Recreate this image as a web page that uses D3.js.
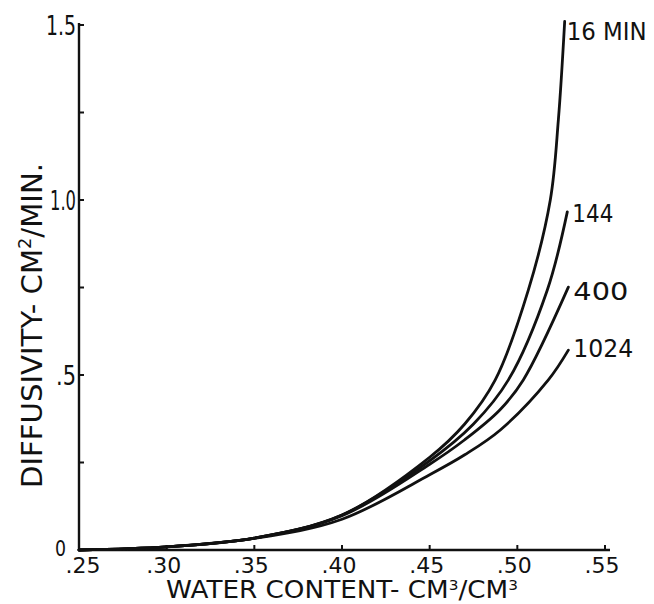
<!DOCTYPE html>
<html>
<head>
<meta charset="utf-8">
<script src="https://cdn.jsdelivr.net/npm/d3@7"></script>
<style>
  html, body { margin: 0; padding: 0; background: #fff; }
  svg { display: block; }
  text { font-family: "DejaVu Sans", sans-serif; fill: #111; }
</style>
</head>
<body>
<svg id="chart" width="654" height="604"></svg>
<script>
// ---- data ----
const xTicks = [0.25, 0.30, 0.35, 0.40, 0.45, 0.50, 0.55];
const xTickLabels = [".25", ".30", ".35", ".40", ".45", ".50", ".55"];
const yTicks = [0, 0.5, 1.0, 1.5];
const yTickLabels = ["0", ".5", "1.0", "1.5"];
const yMinorTicks = [0.25, 0.5, 0.75, 1.0, 1.25, 1.5];

const seriesNames = ["16 MIN", "144", "400", "1024"];
const wc16   = [0.25, 0.30, 0.35, 0.40, 0.45, 0.47, 0.4874, 0.5063, 0.5188, 0.5234, 0.527];
const d16    = [0, 0.009, 0.034, 0.10, 0.265, 0.36, 0.486, 0.743, 1.0, 1.229, 1.51];
const wc144  = [0.25, 0.30, 0.35, 0.40, 0.45, 0.475, 0.4949, 0.5171, 0.5285];
const d144   = [0, 0.009, 0.034, 0.10, 0.255, 0.36, 0.486, 0.743, 0.966];
const wc400  = [0.25, 0.30, 0.35, 0.40, 0.45, 0.47, 0.49, 0.5034, 0.5291];
const d400   = [0, 0.009, 0.034, 0.098, 0.245, 0.315, 0.40, 0.486, 0.751];
const wc1024 = [0.25, 0.30, 0.35, 0.40, 0.45, 0.47, 0.4903, 0.5177, 0.5291];
const d1024  = [0, 0.009, 0.033, 0.088, 0.215, 0.272, 0.343, 0.486, 0.571];

const series = [
  {name: seriesNames[0], wc: wc16, d: d16},
  {name: seriesNames[1], wc: wc144, d: d144},
  {name: seriesNames[2], wc: wc400, d: d400},
  {name: seriesNames[3], wc: wc1024, d: d1024}
];

// ---- drawing ----
const svg = d3.select("#chart");
svg.append("rect").attr("width", 654).attr("height", 604).attr("fill", "#fff");

const x = d3.scaleLinear().domain([0.25, 0.55]).range([79, 605]);
const y = d3.scaleLinear().domain([0, 1.5]).range([550, 25]);

// axes lines
svg.append("line").attr("x1", x(0.25)).attr("x2", 610).attr("y1", y(0)).attr("y2", y(0))
  .attr("stroke", "#111").attr("stroke-width", 2.4);
svg.append("line").attr("x1", x(0.25)).attr("x2", x(0.25)).attr("y1", y(0)).attr("y2", y(1.5) - 2)
  .attr("stroke", "#111").attr("stroke-width", 2.4);

// x ticks (small, upward)
svg.selectAll(".xt").data(xTicks.slice(1)).enter().append("line")
  .attr("x1", d => x(d)).attr("x2", d => x(d))
  .attr("y1", y(0)).attr("y2", y(0) - 5)
  .attr("stroke", "#111").attr("stroke-width", 2);
// y ticks (small, rightward)
svg.selectAll(".yt").data(yMinorTicks).enter().append("line")
  .attr("x1", x(0.25)).attr("x2", x(0.25) + 5)
  .attr("y1", d => y(d)).attr("y2", d => y(d))
  .attr("stroke", "#111").attr("stroke-width", 2);

// x tick labels
svg.selectAll(".xl").data(xTicks).enter().append("text")
  .attr("x", d => d === 0.25 ? x(d) + 4 : x(d) - 3)
  .attr("y", y(0) + 23)
  .attr("text-anchor", "middle")
  .attr("font-size", 22)
  .text((d, i) => xTickLabels[i]);

// y tick labels
const yLabelWidths = [11, 20, 26, 30];
svg.selectAll(".yl").data(yTicks).enter().append("text")
  .attr("x", d => d === 0 ? 66 : 76)
  .attr("y", d => d === 0 ? y(d) + 6 : y(d) + 10)
  .attr("text-anchor", "end")
  .attr("font-size", d => d === 0 ? 22 : 26)
  .attr("textLength", (d, i) => yLabelWidths[i])
  .attr("lengthAdjust", "spacingAndGlyphs")
  .text((d, i) => yTickLabels[i]);

// curves
const line = d3.line()
  .x(p => x(p[0])).y(p => y(p[1]))
  .curve(d3.curveCatmullRom.alpha(0.5));

series.forEach(s => {
  const pts = s.wc.map((w, i) => [w, s.d[i]]);
  svg.append("path").datum(pts)
    .attr("d", line)
    .attr("fill", "none")
    .attr("stroke", "#111")
    .attr("stroke-width", 2.8)
    .attr("stroke-linecap", "round");
});

// series labels
const labelPos = [
  {dx: 2, dy: 18, len: 80, fs: 24},
  {dx: 5, dy: 10, len: 41, fs: 25},
  {dx: 5, dy: 13, len: 55, fs: 24},
  {dx: 5, dy: 7, len: 60, fs: 24}
];
series.forEach((s, i) => {
  const n = s.wc.length - 1;
  const lp = labelPos[i];
  svg.append("text")
    .attr("x", x(s.wc[n]) + lp.dx)
    .attr("y", y(s.d[n]) + lp.dy)
    .attr("font-size", lp.fs)
    .attr("textLength", lp.len)
    .attr("lengthAdjust", "spacingAndGlyphs")
    .text(s.name);
});

// x axis title
const xt = svg.append("text")
  .attr("x", 166).attr("y", 598)
  .attr("font-size", 24)
  .attr("textLength", 352)
  .attr("lengthAdjust", "spacingAndGlyphs");
xt.append("tspan").text("WATER CONTENT- CM");
xt.append("tspan").attr("dy", -8).attr("font-size", 14).text("3");
xt.append("tspan").attr("dy", 8).text("/CM");
xt.append("tspan").attr("dy", -8).attr("font-size", 14).text("3");

// y axis title
const yt = svg.append("text")
  .attr("transform", "translate(42,488) rotate(-90)")
  .attr("x", 0).attr("y", 0)
  .attr("font-size", 28)
  .attr("textLength", 325)
  .attr("lengthAdjust", "spacingAndGlyphs");
yt.append("tspan").text("DIFFUSIVITY- CM");
yt.append("tspan").attr("dy", -11).attr("font-size", 17).text("2");
yt.append("tspan").attr("dy", 11).text("/MIN.");
</script>
</body>
</html>
